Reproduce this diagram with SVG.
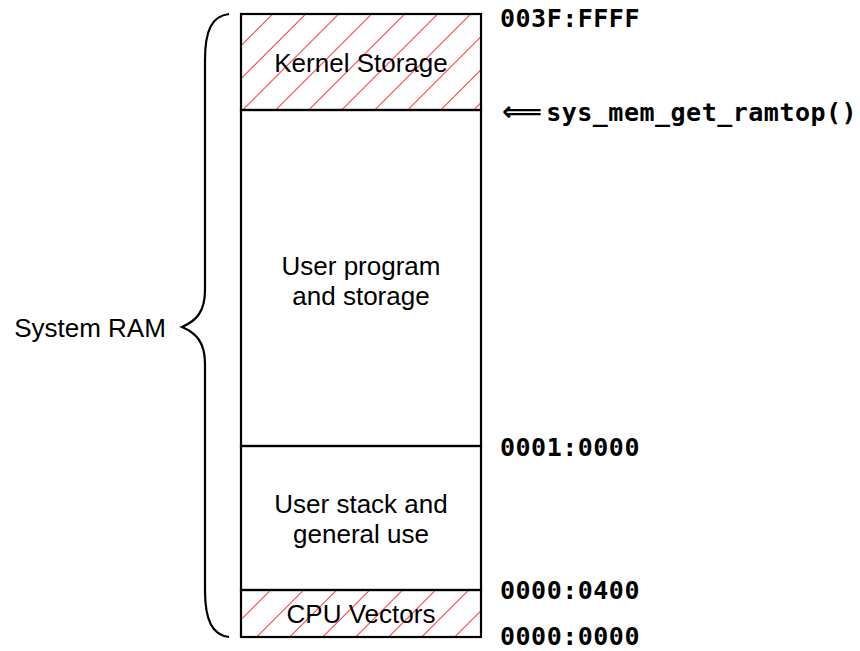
<svg xmlns="http://www.w3.org/2000/svg" width="860" height="651" viewBox="0 0 860 651">
<style>
.region{fill:none;stroke:#000;stroke-width:2.2}
.lbl{font-family:"Liberation Sans",Arial,sans-serif;font-size:26px;fill:#000;text-anchor:middle}
.addr{font-family:"DejaVu Sans Mono",monospace;font-weight:bold;font-size:25px;letter-spacing:0.5px;fill:#000}
.arrow{font-family:"DejaVu Sans",sans-serif;font-weight:bold;font-size:28px;letter-spacing:0}
.brace{fill:none;stroke:#000;stroke-width:2.2}
</style>
<defs>
<pattern id="hatchK" patternUnits="userSpaceOnUse" width="23.335" height="20" patternTransform="rotate(45) translate(15.56,0)">
<rect x="0" y="0" width="1" height="20" fill="#ff3030"/>
</pattern>
<pattern id="hatchC" patternUnits="userSpaceOnUse" width="23.335" height="20" patternTransform="rotate(45) translate(1.41,0)">
<rect x="0" y="0" width="1" height="20" fill="#ff3030"/>
</pattern>
</defs>
<rect width="860" height="651" fill="#fff"/>
<g id="kernel-storage">
<rect x="241" y="14" width="240" height="96" fill="url(#hatchK)"/>
<rect class="region" x="241" y="14" width="240" height="96"/>
<text class="lbl" x="361" y="72">Kernel Storage</text>
</g>
<g id="user-program">
<rect class="region" x="241" y="110" width="240" height="336"/>
<text class="lbl" x="361" y="275">User program</text>
<text class="lbl" x="361" y="305">and storage</text>
</g>
<g id="user-stack">
<rect class="region" x="241" y="446" width="240" height="144"/>
<text class="lbl" x="361" y="513">User stack and</text>
<text class="lbl" x="361" y="543">general use</text>
</g>
<g id="cpu-vectors">
<rect x="241" y="590" width="240" height="47" fill="url(#hatchC)"/>
<rect class="region" x="241" y="590" width="240" height="47"/>
<text class="lbl" x="361" y="623">CPU Vectors</text>
</g>
<g id="system-ram">
<path class="brace" d="M229,14 C212,16 205,30 205,60 L205,290 C205,312 196,321 182,327 C196,333 205,342 205,364 L205,590 C205,620 212,635 229,637"/>
<text class="lbl" x="90" y="337">System RAM</text>
</g>
<g id="addresses">
<text class="addr" x="500" y="27">003F:FFFF</text>
<text class="addr" x="502" y="121"><tspan class="arrow">⟸</tspan><tspan dx="4">sys_mem_get_ramtop()</tspan></text>
<text class="addr" x="500" y="456">0001:0000</text>
<text class="addr" x="500" y="599">0000:0400</text>
<text class="addr" x="500" y="645">0000:0000</text>
</g>
</svg>
